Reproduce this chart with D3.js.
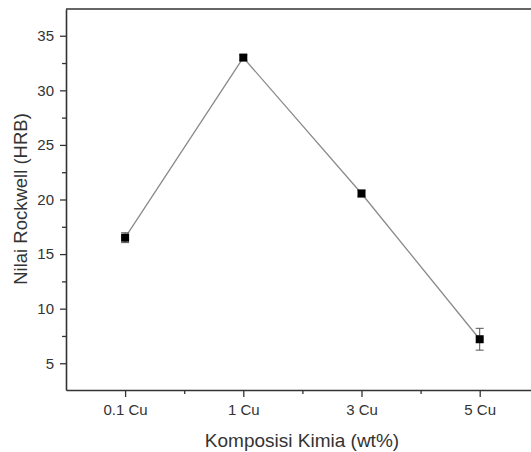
<!DOCTYPE html>
<html>
<head>
<meta charset="utf-8">
<script src="https://cdn.jsdelivr.net/npm/d3@7"></script>
<style>
  body { margin: 0; background: #fff; }
  text { font-family: "Liberation Sans", Arial, sans-serif; fill: #333; }
</style>
</head>
<body>
<div id="chart"></div>
<script>
// data
const categories = ['0.1 Cu', '1 Cu', '3 Cu', '5 Cu'];
const hardness = [16.5, 33.0, 20.55, 7.2];
const hardnessErr = [0.45, 0.25, 0.3, 1.0];
const yTicks = [5, 10, 15, 20, 25, 30, 35];

const width = 531, height = 452;
const margin = { left: 66, top: 9, bottom: 62 };
const plotBottom = height - margin.bottom;

const svg = d3.select('#chart')
  .append('svg')
  .attr('width', width)
  .attr('height', height);

const x = d3.scaleLinear()
  .domain([-0.5, categories.length - 0.5])
  .range([margin.left, margin.left + 4 * 118.2]);

const y = d3.scaleLinear()
  .domain([2.55, 37.45])
  .range([plotBottom, margin.top]);

const axisColor = '#333';
const tickFont = 15;

// minor ticks y
const yMinor = d3.range(5, 37.5, 2.5).filter(v => v % 5 !== 0);
svg.append('g')
  .attr('transform', `translate(${margin.left},0)`)
  .call(d3.axisLeft(y).tickValues(yMinor).tickSize(4).tickFormat(''))
  .call(g => g.select('.domain').remove())
  .selectAll('line').attr('stroke', axisColor).attr('stroke-width', 1.3);

// y axis
svg.append('g')
  .attr('transform', `translate(${margin.left},0)`)
  .call(d3.axisLeft(y).tickValues(yTicks).tickSize(6).tickPadding(6).tickSizeOuter(0))
  .call(g => g.select('.domain').attr('stroke', axisColor).attr('stroke-width', 1.6))
  .call(g => g.selectAll('line').attr('stroke', axisColor).attr('stroke-width', 1.3))
  .call(g => g.selectAll('text').attr('font-size', tickFont).style('fill', '#333'));

// minor ticks x
svg.append('g')
  .attr('transform', `translate(0,${plotBottom})`)
  .call(d3.axisBottom(x).tickValues([0.5, 1.5, 2.5]).tickSize(4).tickFormat(''))
  .call(g => g.select('.domain').remove())
  .selectAll('line').attr('stroke', axisColor).attr('stroke-width', 1.3);

// x axis
svg.append('g')
  .attr('transform', `translate(0,${plotBottom})`)
  .call(d3.axisBottom(x).tickValues(d3.range(categories.length))
    .tickFormat(i => categories[i]).tickSize(7).tickPadding(7).tickSizeOuter(0))
  .call(g => g.select('.domain').attr('stroke', axisColor).attr('stroke-width', 1.6))
  .call(g => g.selectAll('line').attr('stroke', axisColor).attr('stroke-width', 1.3))
  .call(g => g.selectAll('text').attr('font-size', tickFont).style('fill', '#333'));

// top frame line
svg.append('line')
  .attr('x1', margin.left).attr('x2', width)
  .attr('y1', y(37.45)).attr('y2', y(37.45))
  .attr('stroke', axisColor).attr('stroke-width', 1.6);

// axis titles
svg.append('text')
  .attr('x', 302).attr('y', 447)
  .attr('text-anchor', 'middle')
  .attr('font-size', 19)
  .text('Komposisi Kimia (wt%)');

svg.append('text')
  .attr('transform', `translate(27,199) rotate(-90)`)
  .attr('text-anchor', 'middle')
  .attr('font-size', 18.5)
  .text('Nilai Rockwell (HRB)');

// line
const pts = hardness.map((v, i) => ({ i, v, e: hardnessErr[i] }));
svg.append('path')
  .datum(pts)
  .attr('fill', 'none')
  .attr('stroke', '#8a8a8a')
  .attr('stroke-width', 1.3)
  .attr('d', d3.line().x(d => x(d.i)).y(d => y(d.v)));

// error bars
const eb = svg.append('g').attr('stroke', '#555').attr('stroke-width', 1);
eb.selectAll('line.v').data(pts).enter().append('line')
  .attr('x1', d => x(d.i)).attr('x2', d => x(d.i))
  .attr('y1', d => y(d.v - d.e)).attr('y2', d => y(d.v + d.e));
eb.selectAll('line.t').data(pts).enter().append('line')
  .attr('x1', d => x(d.i) - 4).attr('x2', d => x(d.i) + 4)
  .attr('y1', d => y(d.v + d.e)).attr('y2', d => y(d.v + d.e));
eb.selectAll('line.b').data(pts).enter().append('line')
  .attr('x1', d => x(d.i) - 4).attr('x2', d => x(d.i) + 4)
  .attr('y1', d => y(d.v - d.e)).attr('y2', d => y(d.v - d.e));

// markers
svg.selectAll('rect.marker').data(pts).enter().append('rect')
  .attr('class', 'marker')
  .attr('x', d => x(d.i) - 4).attr('y', d => y(d.v) - 4)
  .attr('width', 8).attr('height', 8)
  .attr('fill', '#000');
</script>
</body>
</html>
